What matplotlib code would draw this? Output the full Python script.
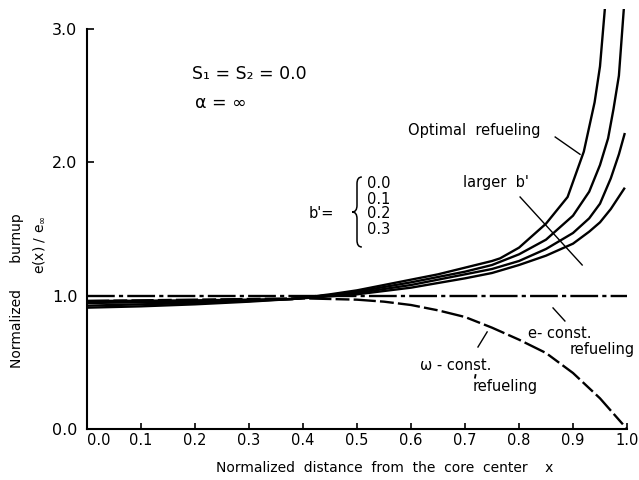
import matplotlib
matplotlib.use("Agg")
import matplotlib.pyplot as plt
from matplotlib.path import Path
from matplotlib.patches import PathPatch

plt.rcParams["lines.scale_dashes"] = False
plt.rcParams["font.family"] = ["DejaVu Sans"]

# ---- data ----
x_b00 = [0.0, 0.1, 0.2, 0.3, 0.38, 0.45, 0.5, 0.55, 0.6, 0.65, 0.7, 0.75, 0.765, 0.8, 0.85, 0.89, 0.92, 0.94, 0.95, 0.96]
y_b00 = [0.91, 0.92, 0.935, 0.955, 0.975, 1.01, 1.04, 1.08, 1.12, 1.16, 1.21, 1.26, 1.28, 1.36, 1.54, 1.74, 2.08, 2.45, 2.72, 3.2]

x_b01 = [0.0, 0.1, 0.2, 0.3, 0.38, 0.45, 0.5, 0.55, 0.6, 0.65, 0.7, 0.75, 0.8, 0.85, 0.9, 0.93, 0.95, 0.965, 0.975, 0.985, 0.995]
y_b01 = [0.925, 0.935, 0.945, 0.96, 0.975, 1.005, 1.03, 1.065, 1.10, 1.14, 1.18, 1.23, 1.31, 1.42, 1.60, 1.78, 1.98, 2.18, 2.40, 2.65, 3.2]

x_b02 = [0.0, 0.1, 0.2, 0.3, 0.38, 0.45, 0.5, 0.55, 0.6, 0.65, 0.7, 0.75, 0.8, 0.85, 0.9, 0.93, 0.95, 0.97, 0.985, 0.996]
y_b02 = [0.945, 0.95, 0.955, 0.965, 0.975, 1.0, 1.02, 1.05, 1.08, 1.12, 1.16, 1.20, 1.26, 1.35, 1.47, 1.58, 1.69, 1.88, 2.06, 2.22]

x_b03 = [0.0, 0.1, 0.2, 0.3, 0.38, 0.45, 0.5, 0.55, 0.6, 0.65, 0.7, 0.75, 0.8, 0.85, 0.9, 0.93, 0.95, 0.97, 0.996]
y_b03 = [0.96, 0.962, 0.965, 0.97, 0.975, 0.995, 1.01, 1.035, 1.06, 1.095, 1.13, 1.17, 1.23, 1.30, 1.39, 1.48, 1.55, 1.65, 1.81]

x_omega = [0.0, 0.1, 0.2, 0.3, 0.4, 0.5, 0.55, 0.6, 0.65, 0.7, 0.75, 0.8, 0.85, 0.9, 0.95, 1.0]
y_omega = [0.96, 0.965, 0.97, 0.975, 0.98, 0.97, 0.955, 0.93, 0.89, 0.84, 0.76, 0.67, 0.57, 0.42, 0.23, 0.0]

x_econst = [0.0, 1.0]
y_econst = [1.0, 1.0]

x_ticks = [0.0, 0.1, 0.2, 0.3, 0.4, 0.5, 0.6, 0.7, 0.8, 0.9, 1.0]
x_ticklabels = ["0.0", "0.1", "0.2", "0.3", "0.4", "0.5", "0.6", "0.7", "0.8", "0.9", "1.0"]
y_ticks = [0.0, 1.0, 2.0, 3.0]
y_ticklabels = ["0.0", "1.0", "2.0", "3.0"]
b_values = ["0.0", "0.1", "0.2", "0.3"]

# ---- figure ----
W, H = 639, 480
fig = plt.figure(figsize=(W / 100, H / 100), dpi=100)
ax = fig.add_axes([87 / W, 51 / H, 540 / W, 420 / H])
ax.set_xlim(0, 1.0)
ax.set_ylim(0, 3.15)

lw = 1.7
for xs, ys in [(x_b00, y_b00), (x_b01, y_b01), (x_b02, y_b02), (x_b03, y_b03)]:
    ax.plot(xs, ys, color="black", lw=lw, solid_capstyle="butt")
ax.plot(x_omega, y_omega, color="black", lw=lw, dashes=(16, 3, 10, 3))
ax.plot(x_econst, y_econst, color="black", lw=lw, dashes=(20, 3, 3, 3))

for s in ["top", "right"]:
    ax.spines[s].set_visible(False)
ax.spines["left"].set_bounds(0, 3.0)
ax.spines["bottom"].set_bounds(0, 1.0)
for s in ["left", "bottom"]:
    ax.spines[s].set_linewidth(1.5)

ax.set_xticks(x_ticks)
ax.set_xticklabels(x_ticklabels, fontsize=10.5)
ax.set_yticks(y_ticks)
ax.set_yticklabels(y_ticklabels, fontsize=11.5)
ax.tick_params(axis="x", direction="in", length=4, width=1.2, pad=3)
ax.tick_params(axis="y", direction="in", length=5, width=1.2, pad=7)
ax.get_xticklabels()[0].set_horizontalalignment("left")

# annotations
fs = 10.5
ax.text(0.194, 2.66, "S\u2081 = S\u2082 = 0.0", fontsize=12.5, va="center", ha="left")
ax.text(0.20, 2.445, "\u03b1 = \u221e", fontsize=12.5, va="center", ha="left")
ax.text(0.594, 2.24, "Optimal  refueling", fontsize=fs, va="center", ha="left")
ax.plot([0.867, 0.913], [2.19, 2.06], color="black", lw=1.0)
ax.text(0.696, 1.845, "larger  b'", fontsize=fs, va="center", ha="left")
ax.plot([0.802, 0.917], [1.74, 1.23], color="black", lw=1.0)

ax.text(0.458, 1.62, "b'=", fontsize=fs, va="center", ha="right")
ys_b = [1.845, 1.725, 1.613, 1.493]
for yv, lab in zip(ys_b, b_values):
    ax.text(0.519, yv, lab, fontsize=fs, va="center", ha="left")

# brace
yt, yb = 1.89, 1.365
ym = (yt + yb) / 2
xa, xm, xt = 0.509, 0.500, 0.491
verts = [(xa, yt), (xm, yt), (xm, yt - 0.05),
         (xm, ym + 0.05), (xm, ym), (xt, ym),
         (xm, ym), (xm, ym - 0.05),
         (xm, yb + 0.05), (xm, yb), (xa, yb)]
codes = [Path.MOVETO, Path.CURVE3, Path.CURVE3,
         Path.LINETO, Path.CURVE3, Path.CURVE3,
         Path.CURVE3, Path.CURVE3,
         Path.LINETO, Path.CURVE3, Path.CURVE3]
ax.add_patch(PathPatch(Path(verts, codes), fill=False, lw=1.1, color="black"))

ax.text(0.817, 0.72, "e- const.", fontsize=fs, va="center", ha="left")
ax.text(0.894, 0.593, "refueling", fontsize=fs, va="center", ha="left")
ax.plot([0.863, 0.885], [0.908, 0.81], color="black", lw=1.0)

ax.text(0.617, 0.48, "\u03c9 - const.", fontsize=fs, va="center", ha="left")
ax.text(0.715, 0.315, "refueling", fontsize=fs, va="center", ha="left")
ax.plot([0.7185, 0.7195], [0.385, 0.405], color="black", lw=1.3)
ax.plot([0.724, 0.741], [0.615, 0.728], color="black", lw=1.0)

# axis labels
fig.text(385 / W, 1 - 468 / H, "Normalized  distance  from  the  core  center    x",
         fontsize=10, ha="center", va="center")
fig.text(17 / W, 1 - 291 / H, "Normalized      burnup", fontsize=10,
         rotation=90, ha="center", va="center")
fig.text(39 / W, 1 - 245 / H, r"e(x) / e$_\infty$", fontsize=10,
         rotation=90, ha="center", va="center")

fig.savefig("out.png", dpi=100)
